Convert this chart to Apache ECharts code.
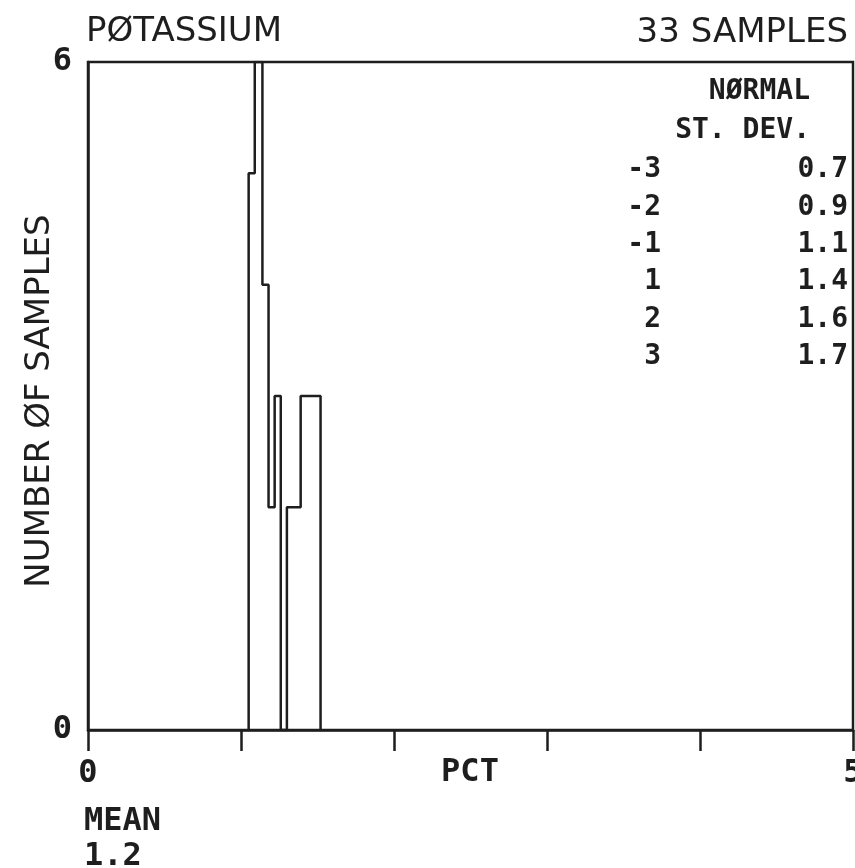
<!DOCTYPE html>
<html>
<head>
<meta charset="utf-8">
<script src="https://cdn.jsdelivr.net/npm/echarts@6/dist/echarts.min.js"></script>
<style>html,body{margin:0;padding:0;background:#fff}#c{width:855px;height:868px}</style>
</head>
<body>
<div id="c"></div>
<script>
// Histogram bin edges (PCT) and counts per bin
var binEdges = [1.05, 1.09, 1.14, 1.18, 1.22, 1.26, 1.30, 1.39, 1.52];
var binCounts = [5, 6, 4, 2, 3, 0, 2, 3];
// Normal st. dev. table
var sdLevels = ['-3', '-2', '-1', '1', '2', '3'];
var sdValues = ['0.7', '0.9', '1.1', '1.4', '1.6', '1.7'];
var xTickLabels = {0: '0', 5: '5'};
var yTickLabels = {0: '0', 6: '6'};
var titleText = 'PØTASSIUM';
var samplesText = '33 SAMPLES';
var xAxisName = 'PCT';
var meanLabel = 'MEAN';
var meanValue = '1.2';

var ink = '#1e1e1e';
var pts = [[binEdges[0], 0]];
for (var i = 0; i < binCounts.length; i++) {
  pts.push([binEdges[i], binCounts[i]]);
  pts.push([binEdges[i + 1], binCounts[i]]);
}
pts.push([binEdges[binEdges.length - 1], 0]);

var sans = 'DejaVu Sans';
var mono = 'DejaVu Sans Mono';
function f(size, fam, w) { return (w || 'bold') + ' ' + size + 'px "' + fam + '"'; }
var graphics = [
  {type: 'text', x: 86, y: 32, style: {text: titleText, font: f(34, sans, 'normal'), fill: ink, textVerticalAlign: 'middle'}},
  {type: 'text', x: 848, y: 33, style: {text: samplesText, font: f(34, sans, 'normal'), fill: ink, textAlign: 'right', textVerticalAlign: 'middle'}},
  {type: 'text', x: 810, y: 92, style: {text: 'NØRMAL', font: f(28, mono), fill: ink, textAlign: 'right', textVerticalAlign: 'middle'}},
  {type: 'text', x: 810, y: 131, style: {text: 'ST. DEV.', font: f(28, mono), fill: ink, textAlign: 'right', textVerticalAlign: 'middle'}},
  {type: 'text', x: 40, y: 401, rotation: Math.PI / 2, style: {text: 'NUMBER ØF SAMPLES', font: f(34, sans, 'normal'), fill: ink, textAlign: 'center', textVerticalAlign: 'middle'}},
  {type: 'text', x: 470, y: 773, style: {text: xAxisName, font: f(32, mono), fill: ink, textAlign: 'center', textVerticalAlign: 'middle'}},
  {type: 'text', x: 84, y: 822, style: {text: meanLabel, font: f(32, mono), fill: ink, textVerticalAlign: 'middle'}},
  {type: 'text', x: 84, y: 857, style: {text: meanValue, font: f(32, mono), fill: ink, textVerticalAlign: 'middle'}}
];
for (var k = 0; k < sdLevels.length; k++) {
  var yy = 170 + k * 37.4;
  graphics.push({type: 'text', x: 661, y: yy, style: {text: sdLevels[k], font: f(28, mono), fill: ink, textAlign: 'right', textVerticalAlign: 'middle'}});
  graphics.push({type: 'text', x: 848, y: yy, style: {text: sdValues[k], font: f(28, mono), fill: ink, textAlign: 'right', textVerticalAlign: 'middle'}});
}

var chart = echarts.init(document.getElementById('c'), null, {renderer: 'canvas'});
chart.setOption({
  animation: false,
  backgroundColor: '#fff',
  grid: {left: 88, right: 2, top: 62, bottom: 138, containLabel: false, outerBoundsMode: 'none',
    show: true, borderColor: ink, borderWidth: 2.5, backgroundColor: 'transparent'},
  xAxis: {
    type: 'value', min: 0, max: 5, interval: 1,
    axisLine: {show: true, onZero: false, lineStyle: {color: ink, width: 2.5}},
    axisTick: {show: true, inside: false, length: 21, lineStyle: {color: ink, width: 2.5}},
    axisLabel: {show: true, margin: 28, fontFamily: mono, fontWeight: 'bold', fontSize: 32, color: ink,
      formatter: function (v) { return xTickLabels[v] !== undefined ? xTickLabels[v] : ''; }},
    splitLine: {show: false}
  },
  yAxis: {
    type: 'value', min: 0, max: 6, interval: 6,
    axisLine: {show: true, lineStyle: {color: ink, width: 2.5}},
    axisTick: {show: false},
    axisLabel: {show: true, margin: 16, fontFamily: mono, fontWeight: 'bold', fontSize: 32, color: ink,
      formatter: function (v) { return yTickLabels[v] !== undefined ? yTickLabels[v] : ''; }},
    splitLine: {show: false}
  },
  graphic: graphics,
  series: [{
    type: 'line', data: pts, symbol: 'none', clip: true,
    lineStyle: {color: ink, width: 2.5}, silent: true
  }]
});
</script>
</body>
</html>
